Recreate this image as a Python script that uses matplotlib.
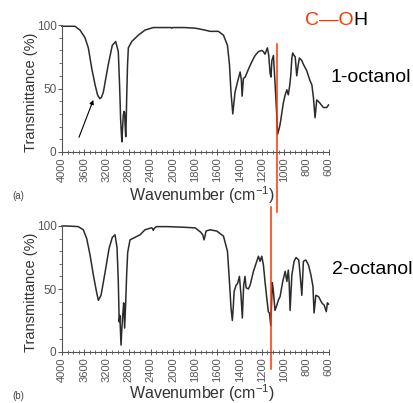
import numpy as np
import matplotlib
matplotlib.use("Agg")
import matplotlib.pyplot as plt
from matplotlib import transforms

plt.rcParams['font.family'] = ['Liberation Sans', 'DejaVu Sans']
plt.rcParams['mathtext.default'] = 'regular'

# 1-octanol spectrum (wavenumber, transmittance %)
wn1 = [4000, 3900, 3766, 3676, 3586, 3526, 3465, 3405, 3360, 3320, 3290, 3256, 3166, 3094,
       3033, 2986, 2965, 2955, 2945, 2935, 2922, 2910, 2896, 2882, 2872, 2862, 2852, 2843,
       2835, 2820, 2805, 2744, 2625, 2505, 2356, 2200, 2100, 2040, 2024, 2010, 1900, 1800,
       1712, 1667, 1592, 1546, 1510, 1492, 1478, 1462, 1442, 1420, 1396, 1385, 1378, 1366,
       1350, 1322, 1291, 1261, 1231, 1200, 1186, 1172, 1150, 1138, 1126, 1118, 1110, 1096,
       1082, 1066, 1058, 1040, 1032, 1006, 990, 975, 962, 950, 940, 930, 922, 910, 900, 886,
       874, 862, 840, 826, 796, 766, 750, 736, 721, 706, 682, 646, 616, 600]
tr1 = [99, 99, 99, 96, 90, 82, 66, 53, 45, 42, 43, 47, 69, 84,
       87, 79, 55, 42, 27, 18, 8, 18, 29, 32, 31, 20, 12, 25,
       43, 68, 82, 87, 92, 96, 98, 98, 98, 98, 97.5, 98, 98, 97.5,
       96, 95, 95, 92, 84, 69, 47, 30, 47, 55, 63, 57, 44, 58,
       59, 65, 71, 76, 79, 80, 79, 77, 82, 76, 62, 59, 72, 76,
       55, 29, 14, 20, 24, 39, 45, 49, 45, 52, 60, 74, 78, 76, 75, 60,
       68, 74, 72, 69, 64, 56, 53, 43, 27, 41, 39, 35, 35, 37]

# 2-octanol spectrum
wn2 = [4000, 3900, 3706, 3616, 3555, 3495, 3435, 3375, 3345, 3297, 3225, 3153, 3094, 3045,
       3009, 2986, 2970, 2958, 2950, 2937, 2920, 2907, 2889, 2872, 2852, 2835, 2817, 2775,
       2685, 2595, 2505, 2385, 2370, 2356, 2340, 2300, 2100, 1900, 1800, 1750, 1732, 1721,
       1712, 1703, 1667, 1607, 1546, 1510, 1492, 1478, 1466, 1458, 1450, 1432, 1418, 1402,
       1388, 1376, 1364, 1352, 1342, 1322, 1306, 1276, 1246, 1231, 1216, 1201, 1186, 1172,
       1156, 1142, 1132, 1120, 1106, 1096, 1082, 1066, 1052, 1036, 1012, 990, 975, 962,
       954, 946, 930, 910, 892, 868, 856, 840, 826, 804, 780, 758, 740, 730, 714, 690,
       660, 638, 620, 610, 600]
tr2 = [100, 100, 99.5, 97, 90, 77, 61, 47, 41, 45, 63, 82, 91, 93,
       83, 56, 24, 29, 20, 5.5, 20, 29, 39, 19, 40, 62, 79, 89,
       91, 93, 97, 98.6, 98, 96.5, 98, 99.5, 99.5, 99, 98.5, 95, 93, 89,
       92, 96, 97, 96, 92, 80, 56, 35, 25, 35, 48, 53, 54.5, 60,
       45, 27, 53, 60, 51, 50, 53, 64, 72, 76, 72, 76, 69, 56,
       43, 32, 31, 21, 55, 48, 33, 37, 41, 44, 56, 64, 56, 65,
       55, 33, 61, 72, 75, 73, 62, 45, 72, 73, 69, 61, 52, 31, 45, 44,
       39, 37, 32, 39, 38]

major_ticks = [4000, 3600, 3200, 2800, 2400, 2000, 1800, 1600, 1400, 1200, 1000, 800, 600]
names = ["1-octanol", "2-octanol"]
panel_tags = ["(a)", "(b)"]
co_marks = [1063, 1117]

red = '#ff3300'
ink = '#2b2b2b'


def fwd(w):
    w = np.asarray(w, dtype=float)
    return np.where(w > 2000, 2000 + (w - 2000) / 2, w)


def inv(v):
    v = np.asarray(v, dtype=float)
    return np.where(v > 2000, 2000 + (v - 2000) * 2, v)


fig = plt.figure(figsize=(4.13, 4.03), dpi=100)
ax_a = fig.add_axes([62 / 413, 1 - 152 / 403, 266.5 / 413, 127 / 403])
ax_b = fig.add_axes([62 / 413, 1 - 352 / 403, 266.5 / 413, 126 / 403])

for ax, wn, tr in [(ax_a, wn1, tr1), (ax_b, wn2, tr2)]:
    ax.plot(wn, tr, color=ink, lw=1.1, clip_on=False)
    ax.set_xscale('function', functions=(fwd, inv))
    ax.set_xlim(4000, 600)
    ax.set_ylim(0, 100)
    ax.spines['top'].set_visible(False)
    ax.spines['right'].set_visible(False)
    for s in ['left', 'bottom']:
        ax.spines[s].set_color('#555555')
        ax.spines[s].set_linewidth(0.8)
    ax.set_xticks(major_ticks)
    ax.set_xticklabels([str(t) for t in major_ticks], rotation=90)
    minor = [m for m in list(range(2100, 4000, 100)) + list(range(650, 2000, 50))
             if m not in major_ticks]
    ax.set_xticks(minor, minor=True)
    ax.set_yticks([0, 50, 100])
    ax.set_yticks(range(10, 100, 10), minor=True)
    ax.tick_params(axis='x', which='major', direction='inout', length=4, width=0.7,
                   color='#555555', labelsize=8, labelcolor='#555555', pad=2)
    ax.tick_params(axis='x', which='minor', direction='inout', length=2.5, width=0.6,
                   color='#555555')
    ax.tick_params(axis='y', which='major', length=3, width=0.7, color='#555555',
                   labelsize=8.5, labelcolor='#555555', pad=1)
    ax.tick_params(axis='y', which='minor', length=2, width=0.6, color='#555555')
    ax.set_ylabel('Transmittance (%)', fontsize=10.5, color='#333333')
    ax.set_xlabel('Wavenumber (cm$^{-1}$)', fontsize=11.5, color='#333333', va='center')

ax_a.yaxis.set_label_coords(-0.09, 0.47)
ax_b.yaxis.set_label_coords(-0.09, 0.47)
ax_a.xaxis.set_label_coords(0.525, -0.339)
ax_b.xaxis.set_label_coords(0.525, -0.33)

# C-O marker lines
tr_a = transforms.blended_transform_factory(ax_a.transData, ax_a.transAxes)
ax_a.plot([co_marks[0], co_marks[0]], [0.85, -0.472], color=red, lw=1.1,
          transform=tr_a, clip_on=False)
tr_b = transforms.blended_transform_factory(ax_b.transData, ax_b.transAxes)
ax_b.plot([co_marks[1], co_marks[1]], [1.151, -0.135], color=red, lw=1.1,
          transform=tr_b, clip_on=False)

# arrow at O-H band
ax_a.annotate('', xy=(3436, 41), xytext=(3694, 11.6),
              arrowprops=dict(arrowstyle='-|>', color='black', lw=0.8,
                              mutation_scale=6, shrinkA=0, shrinkB=0))

co_text = fig.text(305 / 413, 1 - 25 / 403, 'C\u2014O', color=red, fontsize=14,
                   ha='left', va='baseline')
ax_a.annotate('H', xy=(1, 0), xycoords=co_text, color='black', fontsize=14,
              ha='left', va='bottom', annotation_clip=False)
fig.text(330 / 413, 1 - 78 / 403, names[0], fontsize=14, ha='left', va='center')
fig.text(332 / 413, 1 - 270 / 403, names[1], fontsize=14, ha='left', va='center')
fig.text(12 / 413, 1 - 196 / 403, panel_tags[0], fontsize=7, color='#444444',
         ha='left', va='center')
fig.text(12 / 413, 1 - 396 / 403, panel_tags[1], fontsize=7, color='#444444',
         ha='left', va='center')

fig.savefig('out.png', dpi=100)
